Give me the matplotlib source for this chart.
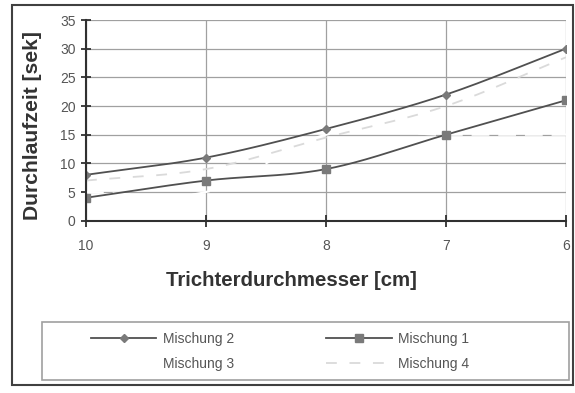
import numpy as np
import matplotlib.pyplot as plt
from matplotlib.patches import Rectangle
from matplotlib.lines import Line2D

plt.rcParams['font.family'] = ['Liberation Sans', 'DejaVu Sans']

durchmesser = ['10', '9', '8', '7', '6']
mischung_1 = [4, 7, 9, 15, 21]
mischung_2 = [8, 11, 16, 22, 30]
mischung_3 = [5, 5, 15, 15, 15]
mischung_4 = [7, 9, 14.5, 20, 28.5]


def smooth(xs, ys, n=40):
    # Catmull-Rom curve through the points, like the smoothed lines in Excel
    xs = np.asarray(xs, float)
    ys = np.asarray(ys, float)
    px = np.concatenate([[2 * xs[0] - xs[1]], xs, [2 * xs[-1] - xs[-2]]])
    py = np.concatenate([[2 * ys[0] - ys[1]], ys, [2 * ys[-1] - ys[-2]]])
    out_x, out_y = [], []
    t = np.linspace(0, 1, n)
    for i in range(1, len(px) - 2):
        for p, out in ((px, out_x), (py, out_y)):
            p0, p1, p2, p3 = p[i - 1], p[i], p[i + 1], p[i + 2]
            out.extend(0.5 * (2 * p1 + (-p0 + p2) * t
                              + (2 * p0 - 5 * p1 + 4 * p2 - p3) * t ** 2
                              + (-p0 + 3 * p1 - 3 * p2 + p3) * t ** 3))
    return out_x, out_y


fig = plt.figure(figsize=(5.75, 3.93), dpi=100)
ax = fig.add_axes([86 / 575, 1 - 220.7 / 393, (566 - 86) / 575, (220.7 - 20) / 393])

x = np.arange(len(durchmesser))
line_col = '#505050'
mark_col = '#7a7a7a'

sx, sy = smooth(x, mischung_3)
ax.plot(sx, sy, color='white', lw=1.6, dashes=(8, 4), zorder=2)
sx, sy = smooth(x, mischung_4)
ax.plot(sx, sy, color='#dadada', lw=1.3, dashes=(6, 7), zorder=3)
sx, sy = smooth(x, mischung_1)
ax.plot(sx, sy, color=line_col, lw=1.3, zorder=4)
ax.plot(x, mischung_1, ls='none', marker='s', ms=6, color=mark_col, zorder=5)
sx, sy = smooth(x, mischung_2)
ax.plot(sx, sy, color=line_col, lw=1.3, zorder=4)
ax.plot(x, mischung_2, ls='none', marker='D', ms=4.5, color=mark_col, zorder=5)

ax.set_xlim(0, len(durchmesser) - 1)
ax.set_ylim(0, 35)
ax.set_yticks(range(0, 36, 5))
ax.set_xticks(x)
ax.set_xticklabels(durchmesser)
ax.grid(True, color='#a0a0a0', lw=0.9, zorder=1)
ax.set_axisbelow(True)

for side in ('top', 'right'):
    ax.spines[side].set_visible(False)
for side in ('left', 'bottom'):
    ax.spines[side].set_color('#303030')
    ax.spines[side].set_linewidth(1.5)
    ax.spines[side].set_zorder(6)
ax.tick_params(direction='inout', length=7, width=1.3, color='#303030',
               labelcolor='#555555', labelsize=10, pad=4)
ax.tick_params(axis='x', length=9, pad=9)

fig.text(33 / 575, 1 - 125 / 393, 'Durchlaufzeit [sek]', fontsize=15.2,
         fontweight='bold', color='#333333', rotation=90,
         ha='center', va='center')
fig.text(291 / 575, 1 - 280 / 393, 'Trichterdurchmesser [cm]', fontsize=14.7,
         fontweight='bold', color='#333333', ha='center', va='center')

# legend box and outer frame
fig.add_artist(Rectangle((42 / 575, 1 - 380 / 393), (569 - 42) / 575, 58 / 393,
                         transform=fig.transFigure, fill=False,
                         edgecolor='#a0a0a0', lw=1.2))
fig.add_artist(Rectangle((12 / 575, 1 - 385 / 393), (573 - 12) / 575, 380 / 393,
                         transform=fig.transFigure, fill=False,
                         edgecolor='#404040', lw=1.5))

handles = [
    Line2D([], [], color=line_col, lw=1.3, marker='D', ms=4.5,
           mfc=mark_col, mec=mark_col),
    Line2D([], [], color='white', lw=1.6, dashes=(8, 4)),
    Line2D([], [], color=line_col, lw=1.3, marker='s', ms=6,
           mfc=mark_col, mec=mark_col),
    Line2D([], [], color='#dadada', lw=1.3, dashes=(6, 7)),
]
labels = ['Mischung 2', 'Mischung 3', 'Mischung 1', 'Mischung 4']
leg = fig.legend(handles, labels, ncol=2, frameon=False, fontsize=10,
                 loc='upper left', bbox_to_anchor=(80 / 575, 1 - 321 / 393),
                 handlelength=4.7, handletextpad=0.5, columnspacing=6.6,
                 labelspacing=0.75, borderpad=0.3)
for t in leg.get_texts():
    t.set_color('#555555')

fig.savefig('out.png', dpi=100)
